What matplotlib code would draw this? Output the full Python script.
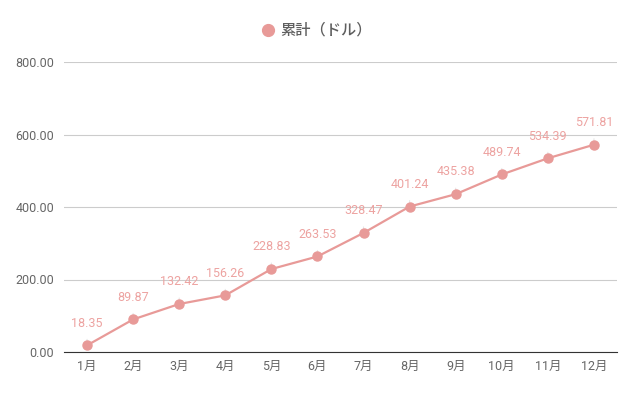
import matplotlib
matplotlib.use("Agg")
from matplotlib import pyplot as plt

months = ["1月", "2月", "3月", "4月", "5月", "6月", "7月", "8月", "9月", "10月", "11月", "12月"]
cumulative = [18.35, 89.87, 132.42, 156.26, 228.83, 263.53, 328.47, 401.24, 435.38, 489.74, 534.39, 571.81]
series_name = "累計（ドル）"

plt.rcParams["font.family"] = ["Roboto", "Noto Sans CJK JP", "DejaVu Sans"]

pink = "#e89a98"
fig = plt.figure(figsize=(6.37, 3.93), dpi=100)
ax = fig.add_axes([64 / 637, 1 - 352 / 393, 553 / 637, 290 / 393])

xs = list(range(len(months)))
ax.plot(xs, cumulative, color=pink, lw=1.6, marker="o", ms=6.5, zorder=4)
for x, v in zip(xs, cumulative):
    ax.annotate(f"{v:.2f}", (x, v), xytext=(0, 16), textcoords="offset points",
                ha="center", va="center", fontsize=9, color="#eda3a1", zorder=2,
                arrowprops=dict(arrowstyle="-", color="#e6e6e6", lw=0.8,
                                shrinkA=5, shrinkB=3))

ax.set_xlim(-0.5, len(months) - 0.5)
ax.set_ylim(0, 800)
ax.set_yticks([0, 200, 400, 600, 800])
ax.set_yticklabels([f"{t:.2f}" for t in [0, 200, 400, 600, 800]])
ax.set_xticks(xs)
ax.set_xticklabels(months)
ax.tick_params(axis="both", length=0, labelsize=9, colors="#666666")
ax.tick_params(axis="y", pad=7)
ax.tick_params(axis="x", pad=6)
ax.grid(axis="y", color="#cccccc", lw=0.8)
ax.set_axisbelow(True)
for s in ["top", "right", "left"]:
    ax.spines[s].set_visible(False)
ax.spines["bottom"].set_color("#333333")
ax.spines["bottom"].set_zorder(3)

# legend on top
fig.lines.append(plt.Line2D([268 / 637], [1 - 30 / 393], marker="o", ms=8.5, color=pink,
                            transform=fig.transFigure, lw=0))
fig.text(280 / 637, 1 - 30 / 393, series_name, fontsize=11, color="#5f5f5f",
         va="center", ha="left", family=["Noto Sans CJK JP"], weight="medium")

plt.savefig("out.png", dpi=100)
